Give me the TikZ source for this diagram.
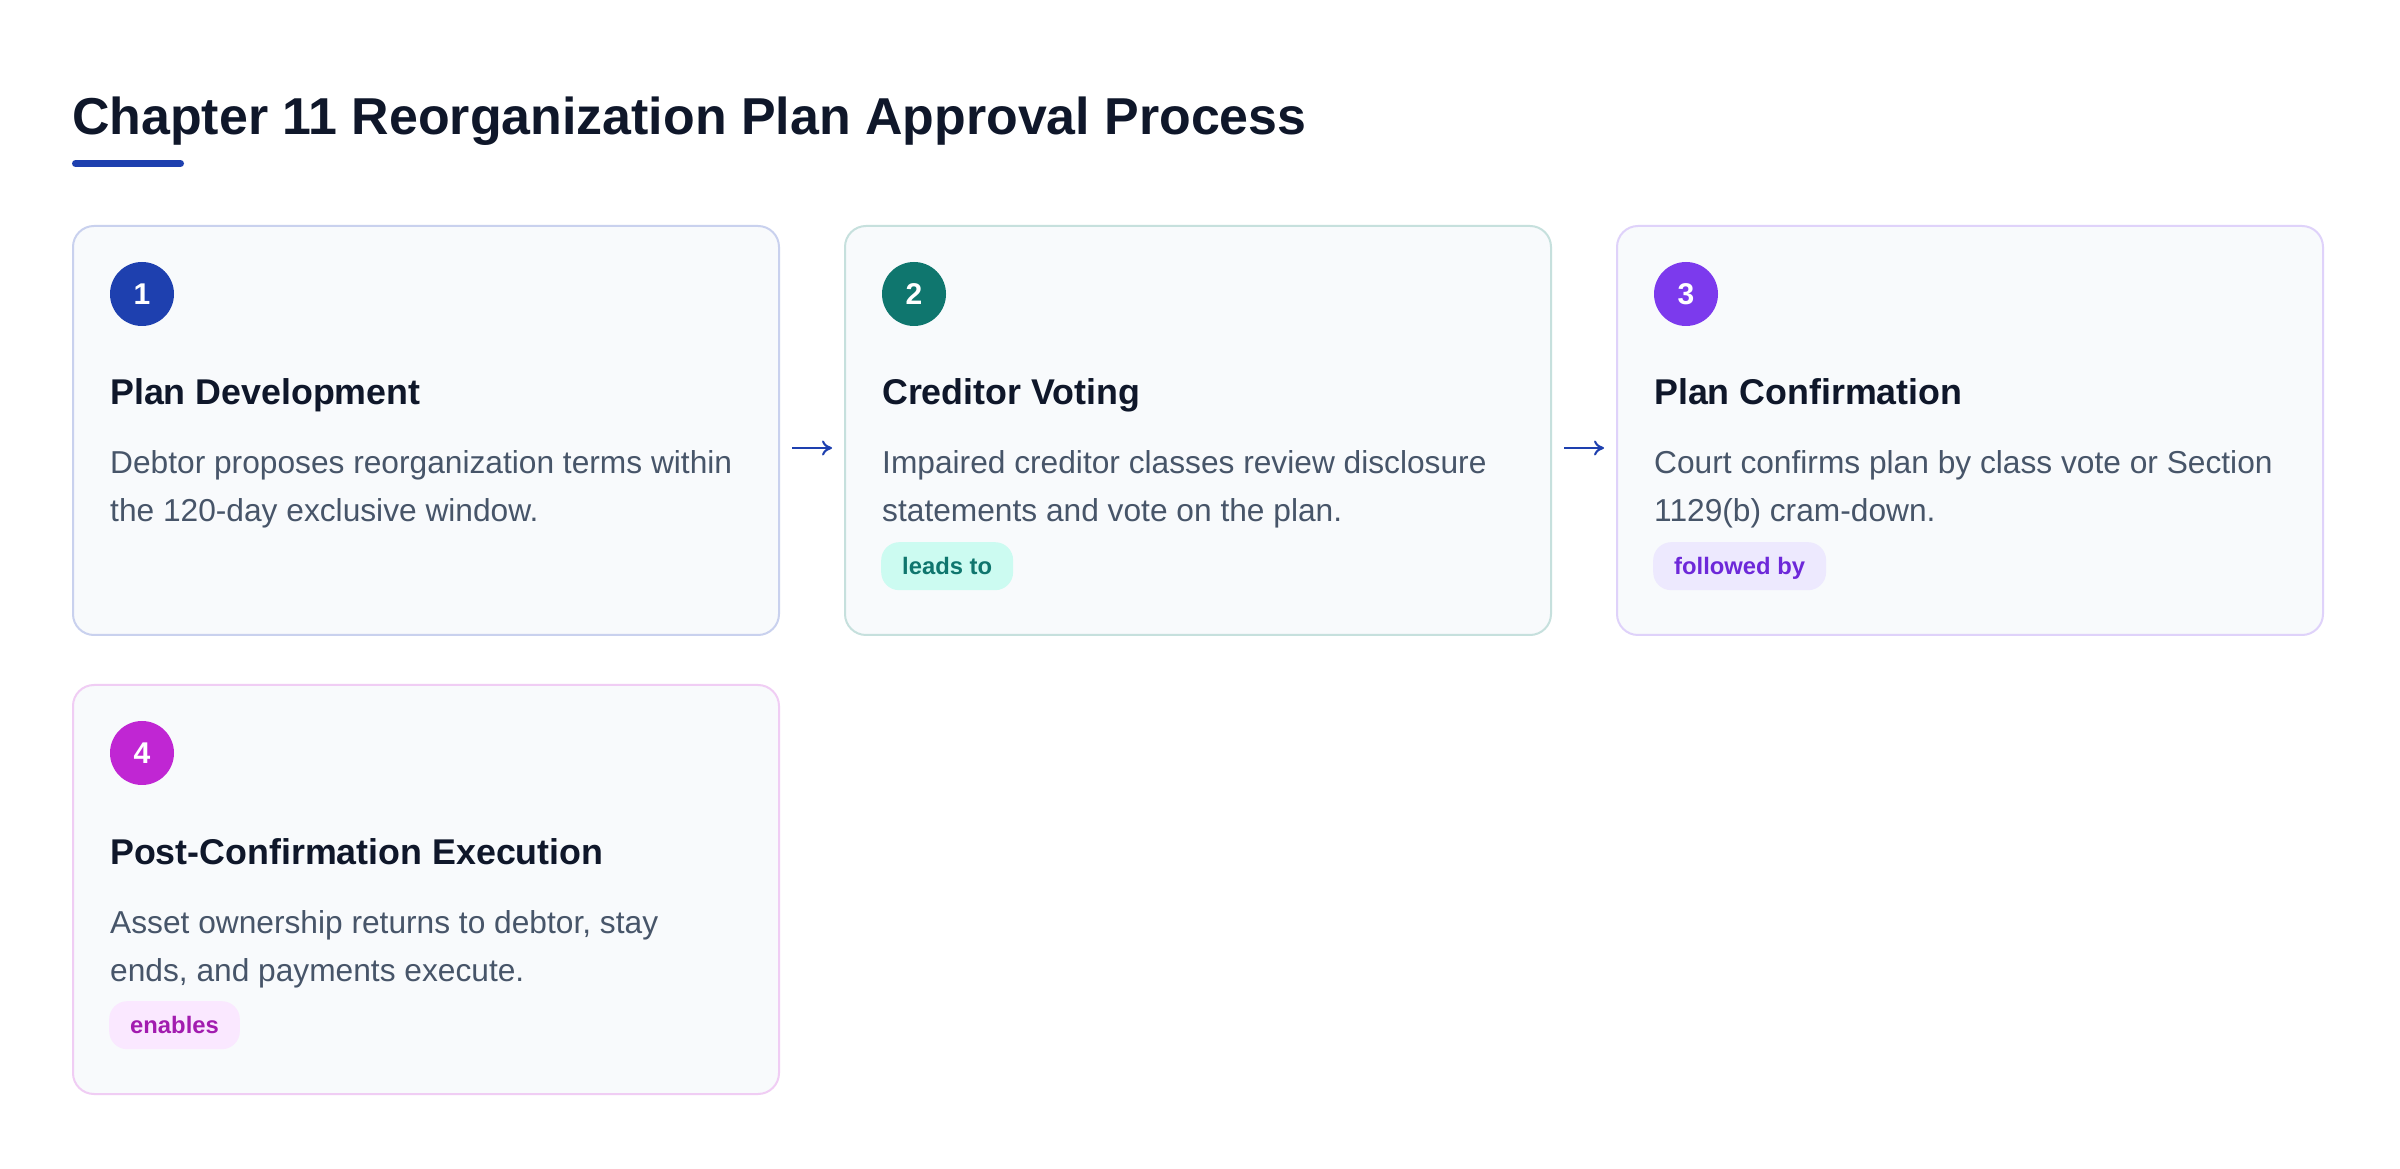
\documentclass[tikz,border=0pt]{standalone}
\usepackage{fontspec}
\setmainfont{Liberation Sans}
\usepackage{xcolor}
\usetikzlibrary{positioning}
\usetikzlibrary{arrows.meta}

\definecolor{ink}{HTML}{0F172A}
\definecolor{body}{HTML}{475569}
\definecolor{paper}{HTML}{F8FAFC}
\definecolor{blueA}{HTML}{1E40AF}
\definecolor{tealA}{HTML}{0F766E}
\definecolor{violetA}{HTML}{7C3AED}
\definecolor{pinkA}{HTML}{C026D3}
\definecolor{blueL}{HTML}{C9D1EE}
\definecolor{tealL}{HTML}{C6E0DD}
\definecolor{violetL}{HTML}{DFD2FA}
\definecolor{pinkL}{HTML}{F0CDF4}
\definecolor{tealS}{HTML}{CCFBF1}
\definecolor{violetS}{HTML}{EDE9FE}
\definecolor{pinkS}{HTML}{FAE8FF}
\definecolor{violetT}{HTML}{6D28D9}
\definecolor{pinkT}{HTML}{A21CAF}

\begin{document}
\begin{tikzpicture}[x=1pt,y=1pt,
  card/.style={draw,line width=2pt,fill=paper,rounded corners=21pt,minimum width=706pt,minimum height=409pt,inner sep=0pt,outer sep=0pt,anchor=north west},
  numdot/.style={circle,minimum size=64pt,inner sep=0pt,text=white,font=\bfseries\fontsize{30}{30}\selectfont},
  head/.style={anchor=base west,inner sep=0pt,text=ink,font=\bfseries\fontsize{35.8}{43}\selectfont},
  desc/.style={anchor=base west,inner sep=0pt,align=left,text=body,font=\fontsize{31.7}{48}\selectfont},
  badge/.style={anchor=north west,rounded corners=18pt,minimum height=48pt,inner xsep=21pt,inner ysep=0pt,text height=17pt,text depth=0pt,font=\bfseries\fontsize{23.8}{24}\selectfont},
  flow/.style={-{To[length=10pt,width=15pt]},blueA,line width=2pt,shorten <=13pt,shorten >=13pt}]

\useasboundingbox[fill=white] (0,0) rectangle (2400,1168);

\node[anchor=base west,inner sep=0pt,text=ink,font=\bfseries\fontsize{51.9}{60}\selectfont] (title) at (72,1033) {Chapter 11 Reorganization Plan Approval Process};
\draw[blueA,line width=7pt,line cap=round] ([shift={(3.5,-28.5)}]title.base west) -- ++(105,0);

\node[card,draw=blueL]   (card1) at (73,942) {};
\node[card,draw=tealL]   (card2) [right=66pt of card1] {};
\node[card,draw=violetL] (card3) [right=66pt of card2] {};
\node[card,draw=pinkL]   (card4) [below=50pt of card1] {};

\node[numdot,fill=blueA]   (num1) at ([shift={(69,-68)}]card1.north west) {1};
\node[numdot,fill=tealA]   (num2) at ([shift={(69,-68)}]card2.north west) {2};
\node[numdot,fill=violetA] (num3) at ([shift={(69,-68)}]card3.north west) {3};
\node[numdot,fill=pinkA]   (num4) at ([shift={(69,-68)}]card4.north west) {4};

\node[head] (head1) at ([shift={(37,-179)}]card1.north west) {Plan Development};
\node[head] (head2) at ([shift={(37,-179)}]card2.north west) {Creditor Voting};
\node[head] (head3) at ([shift={(37,-179)}]card3.north west) {Plan Confirmation};
\node[head] (head4) at ([shift={(37,-179)}]card4.north west) {Post-Confirmation Execution};

\node[desc] (desc1) at ([shift={(37,-296)}]card1.north west) {Debtor proposes reorganization terms within\\the 120-day exclusive window.};
\node[desc] (desc2) at ([shift={(37,-296)}]card2.north west) {Impaired creditor classes review disclosure\\statements and vote on the plan.};
\node[desc] (desc3) at ([shift={(37,-296)}]card3.north west) {Court confirms plan by class vote or Section\\1129(b) cram-down.};
\node[desc] (desc4) at ([shift={(37,-296)}]card4.north west) {Asset ownership returns to debtor, stay\\ends, and payments execute.};

\node[badge,fill=tealS,text=tealA]     (tag2) at ([shift={(36,-316)}]card2.north west) {leads to};
\node[badge,fill=violetS,text=violetT] (tag3) at ([shift={(36,-316)}]card3.north west) {followed by};
\node[badge,fill=pinkS,text=pinkT]     (tag4) at ([shift={(36,-316)}]card4.north west) {enables};

\draw[flow] ([yshift=-17.5pt]card1.east) -- ([yshift=-17.5pt]card2.west);
\draw[flow] ([yshift=-17.5pt]card2.east) -- ([yshift=-17.5pt]card3.west);
\end{tikzpicture}
\end{document}
